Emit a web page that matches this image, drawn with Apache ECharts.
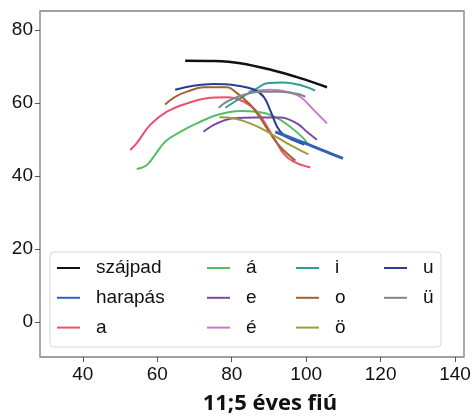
<!DOCTYPE html>
<html>
<head>
<meta charset="utf-8">
<script src="https://cdn.jsdelivr.net/npm/echarts@6/dist/echarts.min.js"></script>
<style>
  html, body { margin: 0; padding: 0; background: #fff; }
  #main { width: 475px; height: 420px; }
</style>
</head>
<body>
<div id="main"></div>
<script>
// tick labels
var xTicks = [40, 60, 80, 100, 120, 140];
var yTicks = [0, 20, 40, 60, 80];

// curves, [x, y]
var szajpad = [[67.5, 71.6], [75.1, 71.5], [82.3, 70.9], [91.2, 68.9], [98.4, 66.8], [105.6, 64.3]];
var harapas = [[91.7, 52.1], [96, 50.4], [100.2, 48.8], [105, 46.8], [109.9, 44.8]];
var a = [[52.7, 47.1], [54.5, 49], [58.1, 54], [62.6, 57.6], [68, 59.9], [73.3, 61.3], [78.7, 61.6],
         [83.2, 60.4], [86.8, 57.6], [89.5, 53.5], [92.2, 49], [93.9, 46.2], [96.6, 43.9], [101.1, 42.3]];
var aa = [[54.5, 41.9], [57.2, 43], [59.4, 45.8], [62.1, 49.4], [66.2, 52.1], [70.6, 54.4], [76, 56.7],
          [82.3, 57.8], [86.8, 57.6], [91.2, 56.4], [95.7, 53.5], [99.3, 50.3], [100.2, 49]];
var e = [[72.4, 52.1], [76, 54.4], [80.5, 55.8], [86.8, 56], [93, 56], [97.5, 54.4], [100.2, 52.1], [102.9, 49.9]];
var ee = [[84.5, 63.1], [90.3, 63.6], [94.8, 63.1], [98.4, 61.7], [102, 58.1], [105.6, 54.4]];
var i = [[78.3, 58.7], [82.3, 61.3], [86.8, 64], [89.5, 65.4], [93.9, 65.6], [98.4, 64.9], [102.4, 63.4]];
var o = [[62.1, 59.6], [64.8, 61.7], [68, 63.1], [72.4, 64.3], [78.7, 64.3], [81.4, 62.7], [85, 59.5],
         [87.7, 55.8], [90.3, 51.7], [93, 48], [97.1, 44.2]];
var oe = [[76.7, 56.1], [80.5, 55.8], [85.9, 54], [90.3, 51.7], [94.8, 49], [100.6, 45.9]];
var u = [[64.8, 63.6], [69.7, 64.7], [75.1, 65.2], [80.5, 64.9], [85.9, 63.7], [88.6, 61.7], [90.3, 58.1],
         [92.2, 53.5], [94, 51.2], [97, 49.6], [99.5, 48.6]];
var ue = [[76.5, 58.7], [78.7, 60.4], [82.3, 61.9], [87.7, 63.1], [93, 63.1], [97.5, 62.5], [99.8, 61.7]];

var names = ['szájpad', 'harapás', 'a', 'á', 'e', 'é', 'i', 'o', 'ö', 'u', 'ü'];
var curves = [szajpad, harapas, a, aa, e, ee, i, o, oe, u, ue];
var colors = ['#111111', '#3262b8', '#ee4f6c', '#55be65', '#7a4aa8', '#c27cc8',
              '#2a9d94', '#a0652f', '#9a9e3e', '#2b3c94', '#858585'];
var widths = [2.5, 3, 2, 2, 2, 2, 2, 2, 2, 2, 2];

var chart = echarts.init(document.getElementById('main'));

var series = names.map(function (n, k) {
  return {
    name: n,
    type: 'line',
    data: curves[k],
    showSymbol: false,
    smooth: 0.4,
    color: colors[k],
    lineStyle: { width: widths[k], color: colors[k] },
    z: k === 1 ? 5 : 2,
    animation: false
  };
});

// matplotlib style legend: 4 columns, filled column by column
var cols = [[0, 1, 2], [3, 4, 5], [6, 7, 8], [9, 10]];
var colLeft = [57, 207, 296, 384];
var legends = cols.map(function (c, j) {
  return {
    orient: 'vertical',
    left: colLeft[j],
    top: 258,
    padding: 0,
    itemGap: 9.8,
    itemWidth: 23,
    itemHeight: 2,
    icon: 'rect',
    data: c.map(function (k) { return names[k]; }),
    textStyle: {
      fontFamily: '"Liberation Sans", Arial, sans-serif',
      fontSize: 19,
      lineHeight: 20,
      color: '#111',
      padding: [0, 0, 0, 11]
    },
    selectedMode: false
  };
});

var axisFont = { fontFamily: '"Liberation Sans", Arial, sans-serif', fontSize: 19, color: '#111' };

var option = {
  animation: false,
  grid: {
    left: 40, right: 11, top: 11, bottom: 63,
    show: true, borderColor: '#808080', borderWidth: 1.3
  },
  xAxis: {
    type: 'value',
    min: 28.5,
    max: 142.4,
    axisLine: { show: false, onZero: false },
    splitLine: { show: false },
    axisTick: { show: true, length: 5, lineStyle: { color: '#555' }, customValues: xTicks },
    axisLabel: Object.assign({ margin: 8, customValues: xTicks }, axisFont)
  },
  yAxis: {
    type: 'value',
    min: -9.6,
    max: 85.2,
    axisLine: { show: false, onZero: false },
    splitLine: { show: false },
    axisTick: { show: true, length: 5, lineStyle: { color: '#555' }, customValues: yTicks },
    axisLabel: Object.assign({ margin: 7, customValues: yTicks }, axisFont)
  },
  legend: legends,
  graphic: [
    {
      type: 'rect',
      shape: { x: 50, y: 252, width: 391, height: 95, r: 4 },
      style: { fill: 'rgba(255,255,255,0.8)', stroke: '#d6d6d6', lineWidth: 1 },
      z: 0
    },
    {
      type: 'text',
      x: 270,
      y: 404,
      style: {
        text: '11;5 éves fiú',
        font: 'bold 22px "Open Sans", sans-serif',
        fill: '#111',
        textAlign: 'center',
        textVerticalAlign: 'middle'
      }
    }
  ],
  series: series
};

chart.setOption(option);
</script>
</body>
</html>
